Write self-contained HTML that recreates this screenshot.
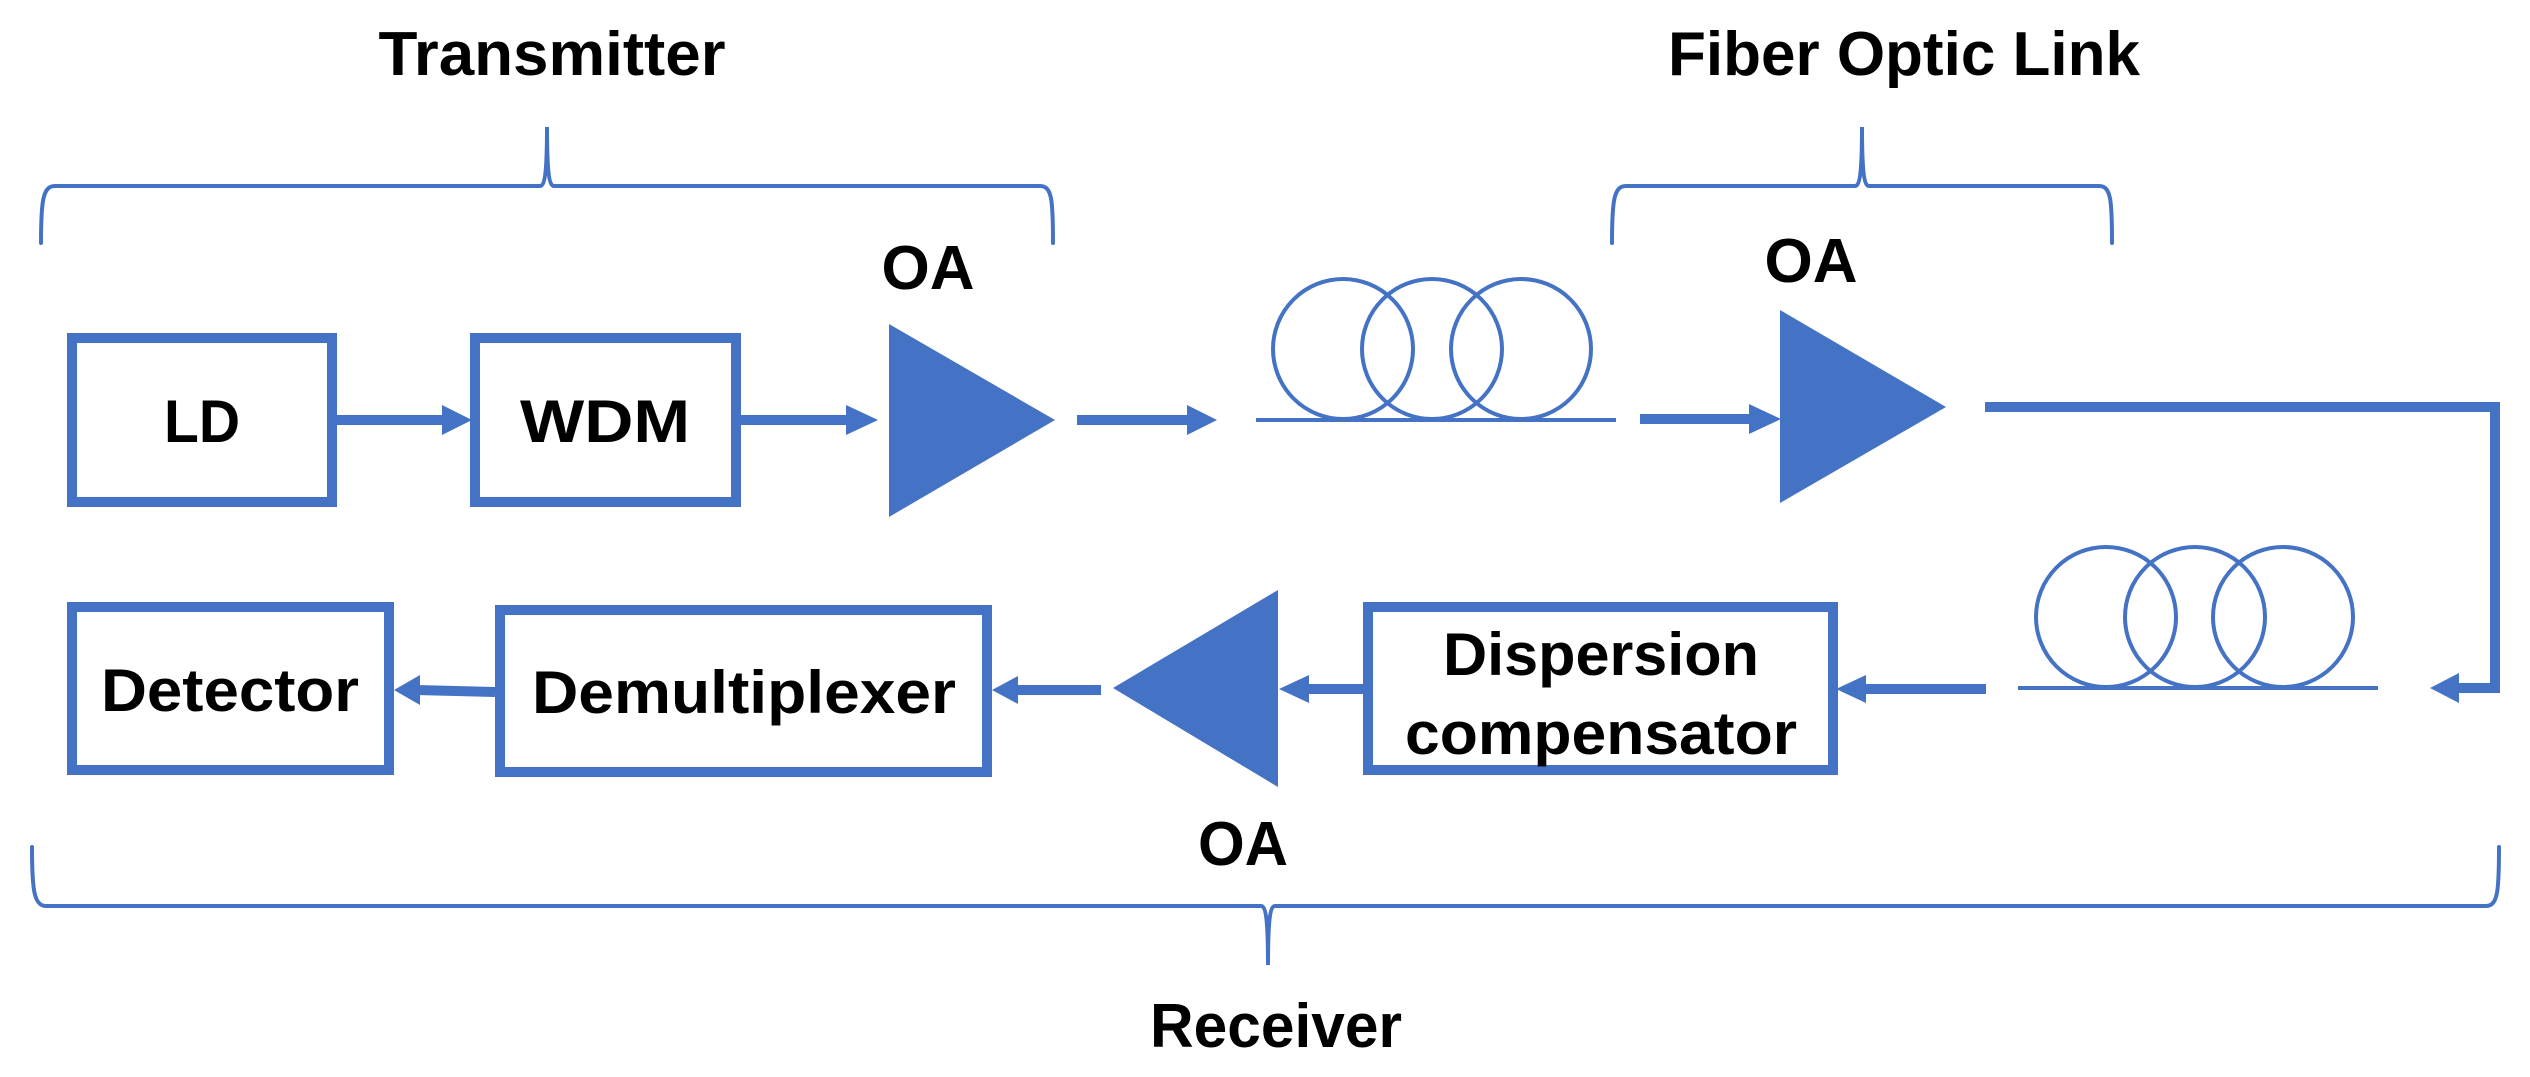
<!DOCTYPE html>
<html><head><meta charset="utf-8"><style>
html,body{margin:0;padding:0;background:#fff;}
svg{display:block;}
text{font-family:"Liberation Sans",sans-serif;font-weight:bold;fill:#000;}
</style></head><body>
<svg width="2530" height="1077" viewBox="0 0 2530 1077" xmlns="http://www.w3.org/2000/svg">
<g fill="none" stroke="#4472C4" stroke-width="4" stroke-linecap="round">
<path d="M41,243 C41,200 43,186 55,186 L540,186 C545,186 547,170 547,127 C547,170 549,186 554,186 L1040,186 C1052,186 1053,200 1053,243"/>
<path d="M1612,243 C1612,200 1614,186 1626,186 L1855,186 C1860,186 1862,170 1862,127 C1862,170 1864,186 1869,186 L2099,186 C2111,186 2112,200 2112,243"/>
<path d="M32,847 C32,890 34,906 46,906 L1261,906 C1266,906 1268,922 1268,965 C1268,922 1270,906 1275,906 L2486,906 C2498,906 2499,890 2499,847"/>
</g>
<g fill="none" stroke="#4472C4" stroke-width="10">
<rect x="72" y="338" width="260" height="164"/>
<rect x="475" y="338" width="261" height="164"/>
<rect x="72" y="607" width="317" height="163"/>
<rect x="500" y="610" width="487" height="162"/>
<rect x="1368" y="607" width="465" height="163"/>
</g>
<g fill="#4472C4">
<polygon points="889,324 1055,420 889,517"/>
<polygon points="1780,310 1946,407 1780,503"/>
<polygon points="1278,590 1113,688 1278,787"/>
</g>
<g stroke="#4472C4" stroke-width="10" fill="none">
<line x1="337" y1="420" x2="445" y2="420"/>
<line x1="741" y1="420" x2="850" y2="420"/>
<line x1="1077" y1="420" x2="1190" y2="420"/>
<line x1="1640" y1="419" x2="1752" y2="419"/>
<polyline points="1985,407 2495,407 2495,688 2455,688"/>
<line x1="1986" y1="689" x2="1862" y2="689"/>
<line x1="1363" y1="689" x2="1305" y2="689"/>
<line x1="1101" y1="690" x2="1014" y2="690"/>
<line x1="495" y1="692" x2="416" y2="690"/>
</g>
<g fill="#4472C4">
<polygon points="442,405 472,420 442,435"/>
<polygon points="846,405 878,420 846,435"/>
<polygon points="1187,405 1217,420 1187,435"/>
<polygon points="1749,404 1781,419 1749,434"/>
<polygon points="2459,673 2430,688 2459,703"/>
<polygon points="1866,675 1836,689 1866,703"/>
<polygon points="1309,675 1279,689 1309,703"/>
<polygon points="1018,676 992,690 1018,704"/>
<polygon points="420,675 394,690 420,705"/>
</g>
<g fill="none" stroke="#4472C4" stroke-width="4">
<line x1="1256" y1="420" x2="1616" y2="420"/>
<circle cx="1343" cy="349" r="70"/>
<circle cx="1432" cy="349" r="70"/>
<circle cx="1521" cy="349" r="70"/>
<line x1="2018" y1="688" x2="2378" y2="688"/>
<circle cx="2106" cy="617" r="70"/>
<circle cx="2195" cy="617" r="70"/>
<circle cx="2283" cy="617" r="70"/>
</g>
<text x="552" y="75" font-size="62" text-anchor="middle" textLength="347" lengthAdjust="spacingAndGlyphs">Transmitter</text>
<text x="1904" y="75" font-size="62" text-anchor="middle" textLength="472" lengthAdjust="spacingAndGlyphs">Fiber Optic Link</text>
<text x="1276" y="1047" font-size="62" text-anchor="middle" textLength="252" lengthAdjust="spacingAndGlyphs">Receiver</text>
<text x="928" y="289" font-size="62" text-anchor="middle" textLength="93" lengthAdjust="spacingAndGlyphs">OA</text>
<text x="1811" y="282" font-size="62" text-anchor="middle" textLength="93" lengthAdjust="spacingAndGlyphs">OA</text>
<text x="1243" y="865" font-size="62" text-anchor="middle" textLength="90" lengthAdjust="spacingAndGlyphs">OA</text>
<text x="202" y="442" font-size="60" text-anchor="middle" textLength="76" lengthAdjust="spacingAndGlyphs">LD</text>
<text x="605" y="442" font-size="60" text-anchor="middle" textLength="170" lengthAdjust="spacingAndGlyphs">WDM</text>
<text x="230" y="711" font-size="60" text-anchor="middle" textLength="258" lengthAdjust="spacingAndGlyphs">Detector</text>
<text x="744" y="713" font-size="60" text-anchor="middle" textLength="424" lengthAdjust="spacingAndGlyphs">Demultiplexer</text>
<text x="1601" y="675" font-size="60" text-anchor="middle" textLength="316" lengthAdjust="spacingAndGlyphs">Dispersion</text>
<text x="1601" y="754" font-size="60" text-anchor="middle" textLength="392" lengthAdjust="spacingAndGlyphs">compensator</text>
</svg>
</body></html>
